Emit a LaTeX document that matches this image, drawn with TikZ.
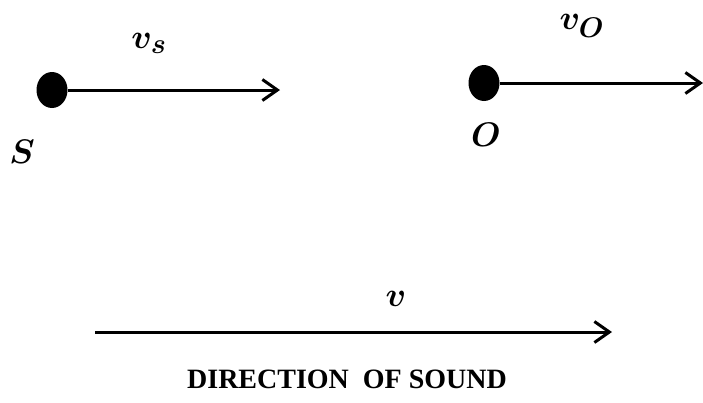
\documentclass[tikz,border=0pt]{standalone}
\usepackage{fontspec}
\usepackage{graphicx}
\newfontfamily\capsfont{Liberation Serif}
\usetikzlibrary{arrows.meta,shapes.geometric}
\newcommand{\biglab}[1]{\scalebox{1.37}{\Huge\boldmath$#1$}}
\tikzset{
  dotnode/.style={ellipse,fill=black,inner sep=0pt,minimum width=31pt,minimum height=36pt},
  vecline/.style={line width=3pt,-{Straight Barb[length=15pt,width=21pt,line width=3pt]}},
  mathlabel/.style={inner sep=0pt},
  caplabel/.style={inner sep=0pt,font=\fontsize{28}{32}\selectfont\capsfont\bfseries}
}
\begin{document}
\begin{tikzpicture}[x=1pt,y=-1pt]
\useasboundingbox (0,0) rectangle (703,402);
\node[dotnode] (S) at (52,90) {};
\node[dotnode] (O) at (484,83) {};
\coordinate (Send) at (280,90);
\coordinate (Oend) at (703,83);
\coordinate (Bstart) at (95,332);
\coordinate (Bend) at (612,332);
\draw[vecline] (S.east) -- (Send);
\draw[vecline] (O.east) -- (Oend);
\draw[vecline] (Bstart) -- (Bend);
\node[mathlabel] (vs) at (149,43) {\biglab{v_s}};
\node[mathlabel] (Slab) at (22,152) {\biglab{S}};
\node[mathlabel] (vo) at (582,26) {\biglab{v_O}};
\node[mathlabel] (Olab) at (486,135) {\biglab{O}};
\node[mathlabel] (v) at (396,299) {\biglab{v}};
\node[caplabel] (dir) at (347,379) {DIRECTION\ \ OF SOUND};
\end{tikzpicture}
\end{document}
